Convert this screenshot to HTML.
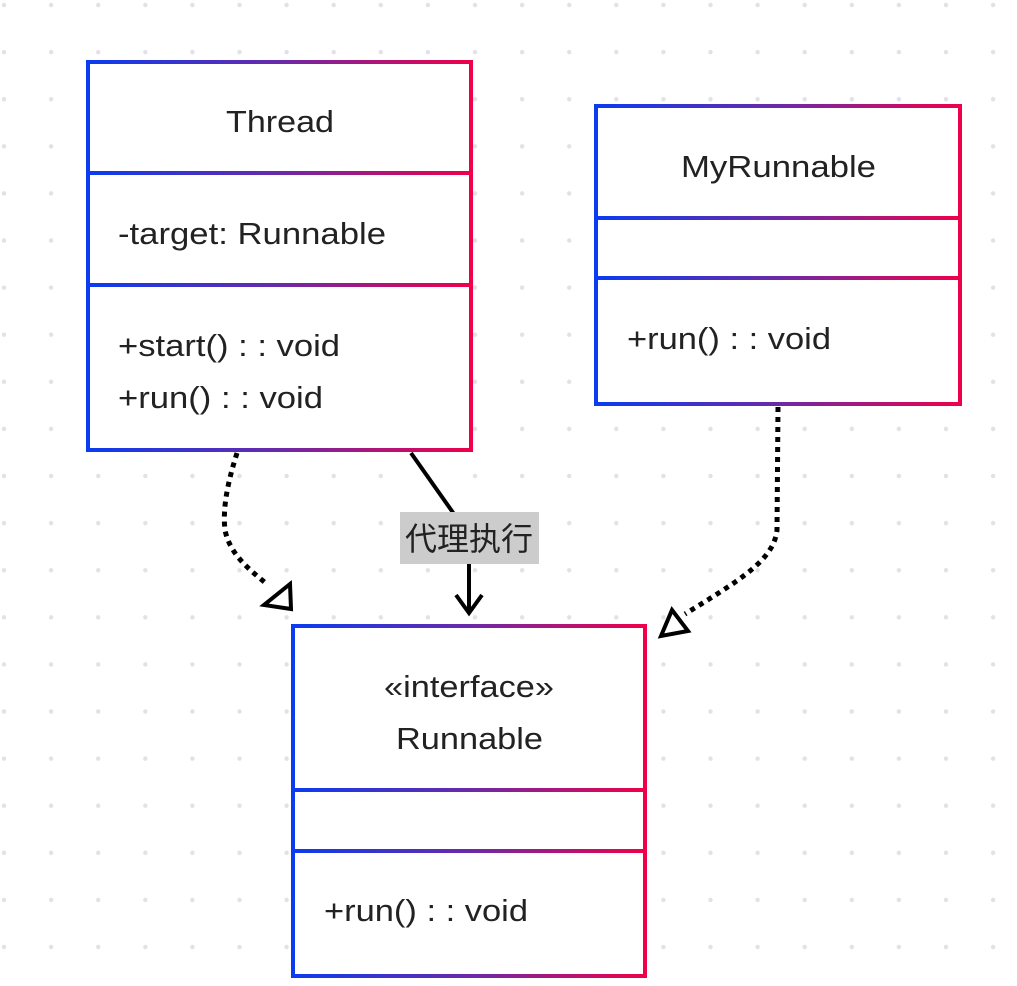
<!DOCTYPE html>
<html><head><meta charset="utf-8"><style>
html,body{margin:0;padding:0;background:#fff;}
svg{display:block;}
text{font-family:"Liberation Sans","Noto Sans CJK SC",sans-serif;fill:#222;}
</style></head><body>
<svg width="1017" height="986" viewBox="0 0 1017 986" xmlns="http://www.w3.org/2000/svg">
<defs>
<pattern id="dots" x="4" y="5" width="47.1" height="47.1" patternUnits="userSpaceOnUse">
<circle cx="0" cy="0" r="2.2" fill="#e2e2e6"/><circle cx="47.1" cy="0" r="2.2" fill="#e2e2e6"/>
<circle cx="0" cy="47.1" r="2.2" fill="#e2e2e6"/><circle cx="47.1" cy="47.1" r="2.2" fill="#e2e2e6"/>
</pattern>
<linearGradient id="g1" gradientUnits="userSpaceOnUse" x1="87" y1="0" x2="472" y2="0"><stop offset="0" stop-color="#0a3cf0"/><stop offset="0.5" stop-color="#6a2aa8"/><stop offset="1" stop-color="#f0004a"/></linearGradient>
<linearGradient id="g2" gradientUnits="userSpaceOnUse" x1="595" y1="0" x2="961" y2="0"><stop offset="0" stop-color="#0a3cf0"/><stop offset="0.5" stop-color="#6a2aa8"/><stop offset="1" stop-color="#f0004a"/></linearGradient>
<linearGradient id="g3" gradientUnits="userSpaceOnUse" x1="292" y1="0" x2="646" y2="0"><stop offset="0" stop-color="#0a3cf0"/><stop offset="0.5" stop-color="#6a2aa8"/><stop offset="1" stop-color="#f0004a"/></linearGradient>
</defs>
<rect width="1017" height="986" fill="url(#dots)"/>

<!-- Thread -->
<rect x="88" y="62" width="383" height="388" fill="#fff" stroke="url(#g1)" stroke-width="4"/>
<line x1="88" y1="173" x2="471" y2="173" stroke="url(#g1)" stroke-width="4"/>
<line x1="88" y1="285" x2="471" y2="285" stroke="url(#g1)" stroke-width="4"/>
<text x="226" y="132" font-size="31" textLength="108" lengthAdjust="spacingAndGlyphs">Thread</text>
<text x="118" y="244" font-size="31" textLength="268" lengthAdjust="spacingAndGlyphs">-target: Runnable</text>
<text x="118" y="356" font-size="31" textLength="222" lengthAdjust="spacingAndGlyphs">+start() : : void</text>
<text x="118" y="408" font-size="31" textLength="205" lengthAdjust="spacingAndGlyphs">+run() : : void</text>

<!-- MyRunnable -->
<rect x="596" y="106" width="364" height="298" fill="#fff" stroke="url(#g2)" stroke-width="4"/>
<line x1="596" y1="218" x2="960" y2="218" stroke="url(#g2)" stroke-width="4"/>
<line x1="596" y1="278" x2="960" y2="278" stroke="url(#g2)" stroke-width="4"/>
<text x="681" y="177" font-size="31" textLength="195" lengthAdjust="spacingAndGlyphs">MyRunnable</text>
<text x="627" y="349" font-size="31" textLength="204" lengthAdjust="spacingAndGlyphs">+run() : : void</text>

<!-- Runnable -->
<rect x="293" y="626" width="352" height="350" fill="#fff" stroke="url(#g3)" stroke-width="4"/>
<line x1="293" y1="790" x2="645" y2="790" stroke="url(#g3)" stroke-width="4"/>
<line x1="293" y1="851" x2="645" y2="851" stroke="url(#g3)" stroke-width="4"/>
<text x="384" y="697" font-size="31" textLength="170" lengthAdjust="spacingAndGlyphs">«interface»</text>
<text x="396" y="749" font-size="31" textLength="147" lengthAdjust="spacingAndGlyphs">Runnable</text>
<text x="324" y="921" font-size="31" textLength="204" lengthAdjust="spacingAndGlyphs">+run() : : void</text>

<!-- dotted edges -->
<path d="M237 453 C230 475 222 505 225 530 C230 555 250 570 268 585" fill="none" stroke="#000" stroke-width="5" stroke-dasharray="5 5"/>
<polygon points="290,584 291,609 264,605" fill="#fff" stroke="#000" stroke-width="4"/>
<path d="M778 407 L777 530 C774 560 740 580 685 614" fill="none" stroke="#000" stroke-width="5" stroke-dasharray="5 5"/>
<polygon points="672,610 688,631 661,636" fill="#fff" stroke="#000" stroke-width="4"/>

<!-- solid edge -->
<line x1="411" y1="453" x2="454" y2="514" stroke="#000" stroke-width="4"/>
<line x1="469" y1="562" x2="469" y2="612" stroke="#000" stroke-width="4"/>
<polyline points="456,595 469,613 482,595" fill="none" stroke="#000" stroke-width="4"/>
<rect x="400" y="512" width="139" height="52" fill="#cccccc"/>
<text x="469" y="550" font-size="32" text-anchor="middle" fill="#333">代理执行</text>
</svg>
</body></html>
